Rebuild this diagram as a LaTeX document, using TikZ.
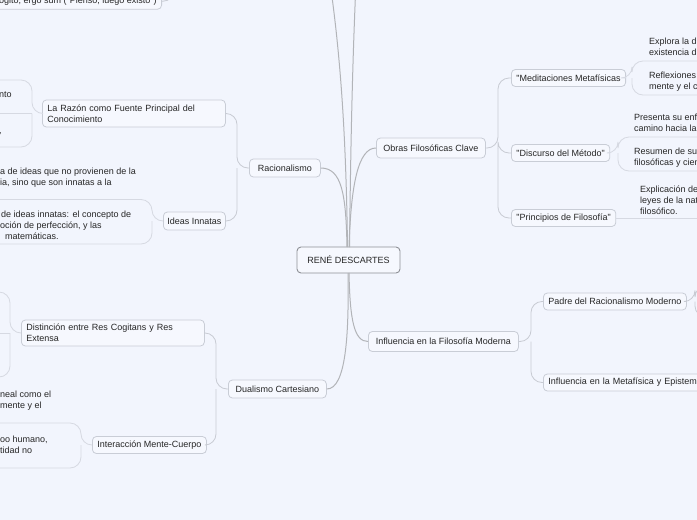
\documentclass[tikz,border=0pt]{standalone}
\usepackage{fontspec}
\setmainfont[Ligatures=TeXOff]{Liberation Sans}
\definecolor{bg}{HTML}{F2F5FD}
\definecolor{boxfill}{HTML}{F6F8FE}
\definecolor{boxline}{HTML}{C9CDD6}
\definecolor{rootline}{HTML}{8E9096}
\definecolor{rootconn}{HTML}{B2B4B8}
\definecolor{midconn}{HTML}{C8CBD3}
\definecolor{leafconn}{HTML}{D6D9E2}
\definecolor{txt}{HTML}{262626}
\begin{document}
\begin{tikzpicture}[x=1pt,y=-1pt,
  font=\fontsize{9}{11}\selectfont,
  every node/.style={text=txt},
  box/.style={draw=boxline, line width=0.8pt, fill=boxfill, rounded corners=4pt,
    inner xsep=5pt, inner ysep=0pt, minimum height=18pt, anchor=west},
  twobox/.style={box, minimum height=27pt, align=left},
  rootbox/.style={draw=rootline, line width=0.9pt, fill=boxfill, rounded corners=4pt,
    minimum width=103pt, minimum height=26pt},
  leaf/.style={anchor=base west, align=left, inner sep=0pt},
  rootc/.style={draw=rootconn, line width=1pt},
  midc/.style={draw=midconn, line width=0.8pt, rounded corners=11pt},
  leafc/.style={draw=leafconn, line width=0.8pt, rounded corners=11pt}]
\useasboundingbox (0,0) rectangle (697,520);
\fill[bg] (0,0) rectangle (697,520);
\clip (0,0) rectangle (697,520);

% root
\node[rootbox] (root) at (348.5,260) {RENÉ DESCARTES};

% level 1
\node[box, minimum width=71pt] (rac) at (249,168) {Racionalismo};
\node[box, minimum width=98pt] (dual) at (228,389) {Dualismo Cartesiano};
\node[box, minimum width=109pt, minimum height=20pt] (obras) at (376,148) {Obras Filosóficas Clave};
\node[box, minimum width=150pt, minimum height=20pt] (influ) at (368,341.5) {Influencia en la Filosofía Moderna};

% level 2
\node[twobox, text width=173pt] (razon) at (42,113.5) {La Razón como Fuente Principal del\\Conocimiento};
\node[box, minimum width=62pt, inner xsep=3.5pt] (innatas) at (163,221) {Ideas Innatas};
\node[twobox, text width=173pt, minimum height=26pt] (dist) at (21,333) {Distinción entre Res Cogitans y Res\\Extensa};
\node[box, minimum width=112pt, minimum height=17pt] (inter) at (92,445) {Interacción Mente-Cuerpo};
\node[box, minimum width=111pt, minimum height=17pt] (medit) at (511,78) {"Meditaciones Metafísicas};
\node[box, minimum width=97pt, minimum height=17pt] (discurso) at (511,153) {"Discurso del Método"};
\node[box, minimum width=101pt, minimum height=17pt] (principios) at (511,218) {"Principios de Filosofía"};
\node[box, minimum width=141pt, minimum height=17pt] (padre) at (543,301.5) {Padre del Racionalismo Moderno};
\node[box, minimum height=17pt, text width=210pt, align=left] (metaf) at (543,382.5) {Influencia en la Metafísica y Epistemología};
\node[box, anchor=east, minimum height=16pt] (cogito) at (162,1.2) {ogito, ergo sum ("Pienso, luego existo")};

% leaf texts (anchor = baseline of last line)
\node[leaf] (l1) at (-1,97) {nto};
\node[leaf] (l2) at (-1,133) {,};
\node[leaf] (l3) at (0,185) {a de ideas que no provienen de la\\ia, sino que son innatas a la};
\node[leaf] (l4) at (0,239) {\hspace*{1pt}de ideas innatas: el concepto de\\oción de perfección, y las\\\hspace*{5pt}matemáticas.};
\node[leaf] (l5) at (0,408.5) {neal como el\\mente y el};
\node[leaf] (l6) at (0,453) {oo humano,\\tidad no};
\node[leaf] (r1) at (649,55) {Explora la d\\existencia d};
\node[leaf] (r2) at (649,89) {Reflexiones\\mente y el c};
\node[leaf] (r3) at (634,131) {Presenta su enf\\camino hacia la};
\node[leaf] (r4) at (634,165) {Resumen de su\\filosóficas y cien};
\node[leaf] (r5) at (640,214) {Explicación de\\leyes de la nat\\filosófico.};

% off-frame ends
\coordinate (topA) at (325,-50);
\coordinate (topB) at (358,-60);

% root connectors
\draw[rootc] (347.5,247) .. controls (346,130) and (340,40) .. (topA);
\draw[rootc] (349.5,247) .. controls (351,120) and (353,40) .. (topB);
\draw[rootc] (347,247) .. controls (346,195) and (342,168) .. (rac.east);
\draw[rootc] (349,247) .. controls (351,185) and (358,148) .. (obras.west);
\draw[rootc] (348,273) .. controls (349,335) and (346,389) .. (dual.east);
\draw[rootc] (349,273) .. controls (350,320) and (354,341.5) .. (influ.west);

% level connectors
\coordinate (jr) at (237,168);
\draw[midc] (rac.west) -- (jr) |- (razon.east);
\draw[midc] (jr) |- (innatas.east);
\coordinate (jd) at (216,389);
\draw[midc] (dual.west) -- (jd) |- (dist.east);
\draw[midc] (jd) |- (inter.east);
\coordinate (jo) at (498,148);
\draw[midc] (obras.east) -- (jo) |- (medit.west);
\draw[midc] (jo) |- (discurso.west);
\draw[midc] (jo) |- (principios.west);
\coordinate (ji) at (531,341.5);
\draw[midc] (influ.east) -- (ji) |- (padre.west);
\draw[midc] (ji) |- (metaf.west);
\draw[midc] (cogito.east) -| (174,-30);

% leaf connectors (underlines)
\coordinate (jz) at (32,113.5);
\draw[leafc] (razon.west) -- (jz) |- (-8,80);
\draw[leafc] (jz) |- (-8,147);
\draw[leafc] (jz) -- (-8,113.5);
\coordinate (jn) at (152,221);
\draw[leafc] (innatas.west) -- (jn) |- (-8,199.5);
\draw[leafc] (jn) |- (-8,244);
\coordinate (js) at (10,333);
\draw[leafc] (dist.west) -- (js) |- (-8,292);
\draw[leafc] (js) |- (-8,377);
\draw[leafc] (js) -- (-8,333);
\coordinate (jt) at (81,445);
\draw[leafc] (inter.west) -- (jt) |- (-8,423);
\draw[leafc] (jt) |- (-8,468);
\coordinate (jm) at (632,78);
\draw[leafc] (medit.east) -- (jm) |- (705,61);
\draw[leafc] (jm) |- (705,95);
\coordinate (jc) at (618,153);
\draw[leafc] (discurso.east) -- (jc) |- (705,137);
\draw[leafc] (jc) |- (705,171);
\draw[leafc] (principios.east) -- (705,218);
\coordinate (jp) at (695,301.5);
\draw[midc] (padre.east) -- (jp) |- (710,286);
\draw[midc] (jp) |- (710,317);
\end{tikzpicture}
\end{document}
